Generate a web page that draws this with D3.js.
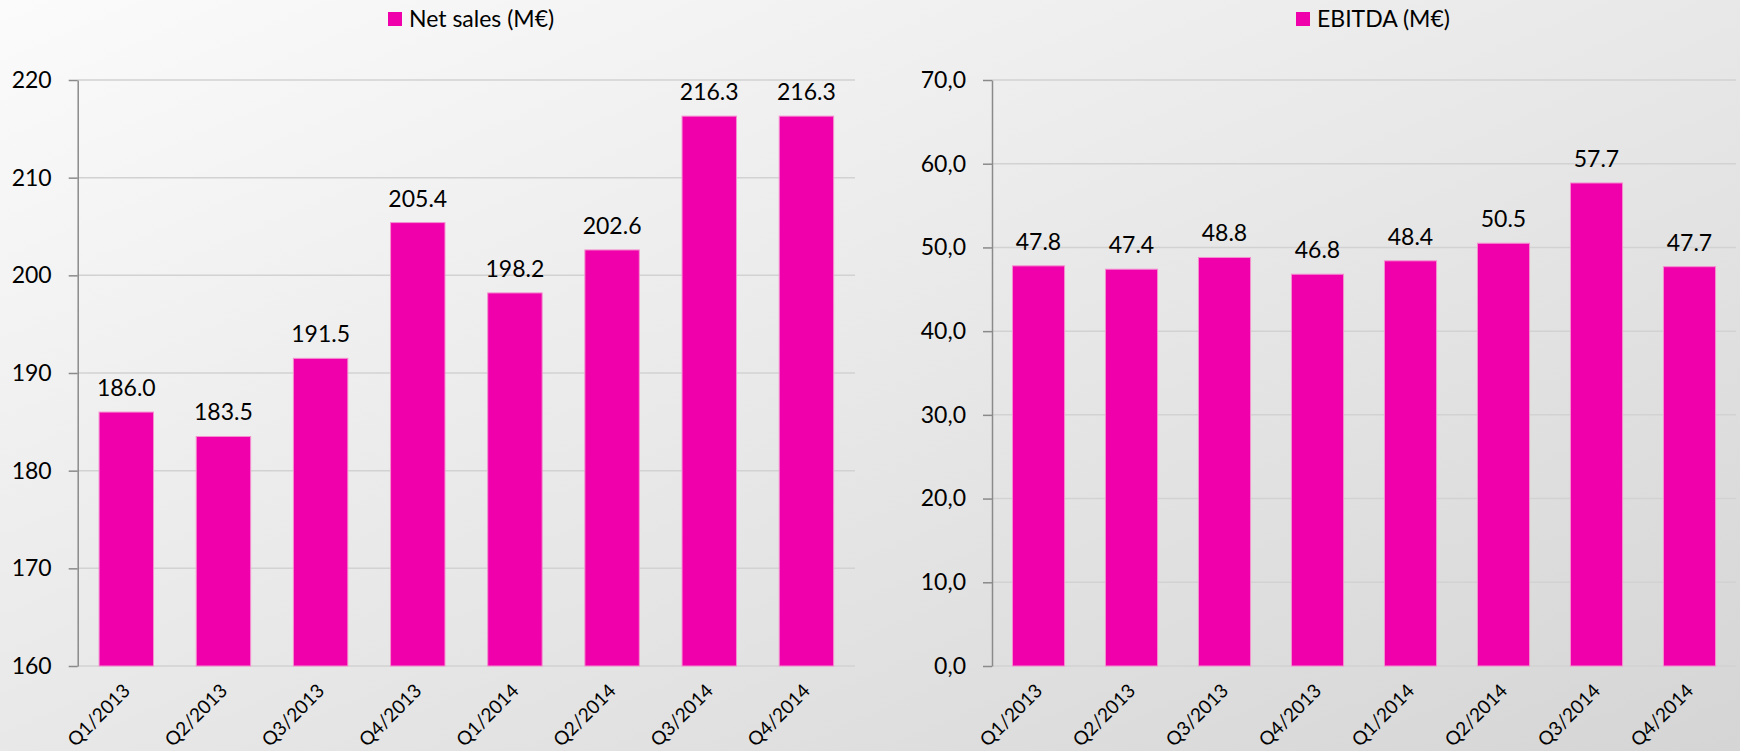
<!DOCTYPE html>
<html>
<head>
<meta charset="utf-8">
<script src="https://cdn.jsdelivr.net/npm/d3@7"></script>
<style>
  body { margin: 0; }
  svg { display: block; }
  text { font-family: Lato, "Open Sans", sans-serif; fill: #000; }
</style>
</head>
<body>
<div id="chart"></div>
<script>
(function(){
	var quarters = ["Q1/2013", "Q2/2013", "Q3/2013", "Q4/2013", "Q1/2014", "Q2/2014", "Q3/2014", "Q4/2014"];
	var netSales = [186.0, 183.5, 191.5, 205.4, 198.2, 202.6, 216.3, 216.3];
	var ebitda = [47.8, 47.4, 48.8, 46.8, 48.4, 50.5, 57.7, 47.7];
	var salesTicks = [160, 170, 180, 190, 200, 210, 220];
	var ebitdaTicks = [0, 10, 20, 30, 40, 50, 60, 70];

	var width = 1740;
	var height = 751;
	var pink = "#f000aa";

	var svg = d3.select('#chart').append('svg')
		.attr('width', width)
		.attr('height', height);

	var grad = svg.append('defs').append('linearGradient')
		.attr('id', 'bg')
		.attr('x1', 0).attr('y1', 0).attr('x2', 1).attr('y2', 1);
	grad.append('stop').attr('offset', '0%').attr('stop-color', '#fbfbfb');
	grad.append('stop').attr('offset', '100%').attr('stop-color', '#d5d5d5');

	svg.append('rect')
		.attr('width', width)
		.attr('height', height)
		.attr('fill', 'url(#bg)');

	function panel(opt){
		var g = svg.append('g');

		var x = d3.scaleBand()
			.domain(quarters)
			.range([opt.left, opt.right])
			.paddingInner(0.44)
			.paddingOuter(0.22);

		var y = d3.scaleLinear()
			.domain([opt.ticks[0], opt.ticks[opt.ticks.length-1]])
			.range([666, 80]);

		// gridlines
		g.selectAll('line.grid')
			.data(opt.ticks)
			.enter()
			.append('line')
			.attr('class', 'grid')
			.attr('x1', opt.left)
			.attr('x2', opt.right)
			.attr('y1', function(d){ return y(d); })
			.attr('y2', function(d){ return y(d); })
			.attr('stroke', '#d2d2d2')
			.attr('stroke-width', 1.5);

		var axis = g.append('g')
			.attr('transform', 'translate(' + opt.left + ',0)')
			.call(d3.axisLeft(y)
				.tickValues(opt.ticks)
				.tickFormat(opt.tickFormat)
				.tickSizeInner(9)
				.tickSizeOuter(0)
				.tickPadding(17));
		axis.select('.domain').attr('stroke', '#8a8a8a').attr('stroke-width', 1.5);
		axis.selectAll('.tick line').attr('stroke', '#8a8a8a').attr('stroke-width', 1.5);
		axis.selectAll('.tick text')
			.attr('font-size', 23)
			.attr('font-family', 'Lato')
			.attr('fill', '#000');

		// bars
		g.selectAll('rect.bar')
			.data(opt.values)
			.enter()
			.append('rect')
			.attr('class', 'bar')
			.attr('x', function(d, i){ return x(quarters[i]); })
			.attr('width', x.bandwidth())
			.attr('y', function(d){ return y(d); })
			.attr('height', function(d){ return y(opt.ticks[0]) - y(d); })
			.attr('fill', pink)
			.attr('stroke', '#f590d0')
			.attr('stroke-width', 1);

		// value labels
		g.selectAll('text.val')
			.data(opt.values)
			.enter()
			.append('text')
			.attr('class', 'val')
			.attr('x', function(d, i){ return x(quarters[i]) + x.bandwidth()/2; })
			.attr('y', function(d){ return y(d) - 16; })
			.attr('text-anchor', 'middle')
			.attr('font-size', 23)
			.text(function(d){ return d.toFixed(1); });

		// category labels
		g.selectAll('text.cat')
			.data(quarters)
			.enter()
			.append('text')
			.attr('class', 'cat')
			.attr('transform', function(d){
				return 'translate(' + (x(d) + x.bandwidth()/2 + 5) + ',692) rotate(-45)';
			})
			.attr('text-anchor', 'end')
			.attr('font-size', 19)
			.text(function(d){ return d; });

		// legend
		var lg = g.append('g')
			.attr('transform', 'translate(' + opt.legendX + ',0)');
		lg.append('rect')
			.attr('x', 0).attr('y', 12)
			.attr('width', 14).attr('height', 14)
			.attr('fill', pink);
		lg.append('text')
			.attr('x', 21).attr('y', 27)
			.attr('font-size', 23)
			.text(opt.label);
	}

	panel({
		left: 77.7, right: 855,
		ticks: salesTicks,
		tickFormat: d3.format('d'),
		values: netSales,
		label: 'Net sales (M\u20ac)',
		legendX: 388
	});

	panel({
		left: 992, right: 1736,
		ticks: ebitdaTicks,
		tickFormat: function(d){ return d3.format('.1f')(d).replace('.', ','); },
		values: ebitda,
		label: 'EBITDA (M\u20ac)',
		legendX: 1296
	});
})();
</script>
</body>
</html>
